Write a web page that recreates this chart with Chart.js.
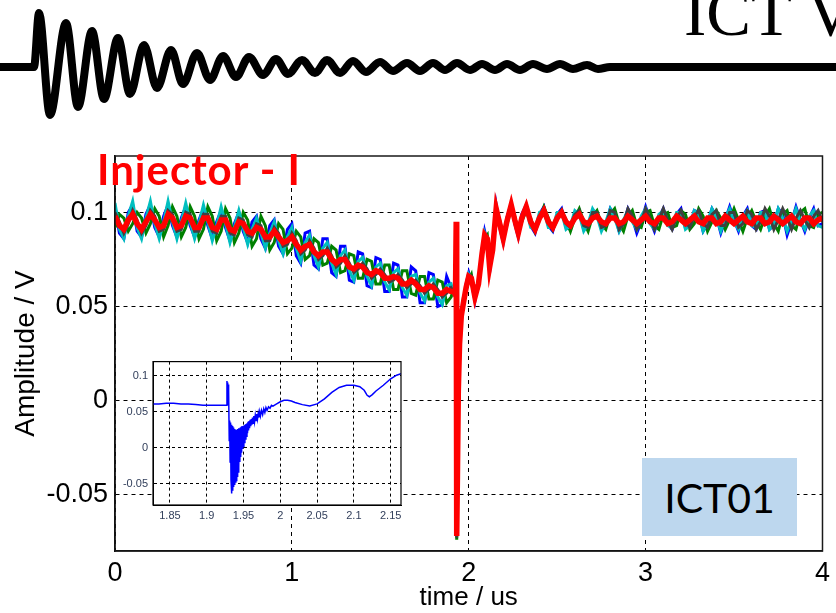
<!DOCTYPE html>
<html>
<head>
<meta charset="utf-8">
<script src="https://cdn.jsdelivr.net/npm/chart.js@4/dist/chart.umd.min.js"></script>
<style>
html, body { margin: 0; padding: 0; background: #fff; }
body { position: relative; width: 836px; height: 613px; overflow: hidden; }
canvas { position: absolute; }
#mainChart { left: 0; top: 0; }
#insetChart { left: 110px; top: 350px; }
#waveChart { left: 0; top: 0; }
.slide-title { position: absolute; left: 684px; top: -21px; font: 67px/67px "Liberation Serif", "Times New Roman", serif; color: #000; white-space: nowrap; }
.injector { position: absolute; left: 97px; top: 148px; font: bold 42px/42px Lato, "Open Sans", sans-serif; letter-spacing: 1px; color: #ff0000; white-space: nowrap; }
.tag { position: absolute; left: 642px; top: 458px; width: 155px; height: 78px; background: #bdd7ee; display: flex; align-items: center; justify-content: center; font: 41px/41px Lato, "Open Sans", sans-serif; color: #000; }
</style>
</head>
<body>
<canvas id="mainChart" width="836" height="613"></canvas>
<canvas id="insetChart" width="300" height="180"></canvas>
<canvas id="waveChart" width="836" height="125"></canvas>
<div class="slide-title">ICT V</div>
<div class="injector">Injector - I</div>
<div class="tag">ICT01</div>
<script>
// main plot: time axis (us)
const timeUs = [
  0, 0.025, 0.05, 0.075, 0.1, 0.125, 0.15, 0.175, 0.2, 0.225,
  0.25, 0.275, 0.3, 0.325, 0.35, 0.375, 0.4, 0.425, 0.45, 0.475,
  0.5, 0.525, 0.55, 0.575, 0.6, 0.625, 0.65, 0.675, 0.7, 0.725,
  0.75, 0.775, 0.8, 0.825, 0.85, 0.875, 0.9, 0.925, 0.95, 0.975,
  1, 1.025, 1.05, 1.075, 1.1, 1.125, 1.15, 1.175, 1.2, 1.225,
  1.25, 1.275, 1.3, 1.325, 1.35, 1.375, 1.4, 1.425, 1.45, 1.475,
  1.5, 1.525, 1.55, 1.575, 1.6, 1.625, 1.65, 1.675, 1.7, 1.725,
  1.75, 1.775, 1.8, 1.825, 1.85, 1.875, 1.9,
  1.915, 1.925, 1.929, 1.932, 1.936, 1.941, 1.948, 1.958, 1.97, 1.985,
  2, 2.015, 2.035, 2.055, 2.075, 2.09, 2.105, 2.118, 2.135, 2.155,
  2.175, 2.195, 2.215, 2.24, 2.26, 2.28, 2.3,
  2.325, 2.35, 2.375, 2.4, 2.425, 2.45, 2.475, 2.5, 2.525, 2.55,
  2.575, 2.6, 2.625, 2.65, 2.675, 2.7, 2.725, 2.75, 2.775, 2.8,
  2.825, 2.85, 2.875, 2.9, 2.925, 2.95, 2.975, 3, 3.025, 3.05,
  3.075, 3.1, 3.125, 3.15, 3.175, 3.2, 3.225, 3.25, 3.275, 3.3,
  3.325, 3.35, 3.375, 3.4, 3.425, 3.45, 3.475, 3.5, 3.525, 3.55,
  3.575, 3.6, 3.625, 3.65, 3.675, 3.7, 3.725, 3.75, 3.775, 3.8,
  3.825, 3.85, 3.875, 3.9, 3.925, 3.95, 3.975, 4
];

const redTrace = [
  0.098, 0.093, 0.091, 0.096, 0.099, 0.094, 0.091, 0.095, 0.099, 0.096,
  0.092, 0.093, 0.099, 0.097, 0.092, 0.093, 0.098, 0.097, 0.092, 0.092,
  0.097, 0.097, 0.092, 0.091, 0.096, 0.096, 0.091, 0.090, 0.095, 0.094,
  0.090, 0.089, 0.092, 0.091, 0.087, 0.087, 0.090, 0.087, 0.084, 0.085,
  0.087, 0.083, 0.080, 0.082, 0.083, 0.079, 0.077, 0.079, 0.079, 0.075,
  0.073, 0.075, 0.075, 0.071, 0.070, 0.072, 0.071, 0.068, 0.067, 0.069,
  0.068, 0.065, 0.065, 0.066, 0.065, 0.062, 0.062, 0.064, 0.062, 0.059,
  0.059, 0.061, 0.060, 0.057, 0.057, 0.059, 0.058,
  0.058, 0.056, 0.095, -0.072, -0.040, 0.005, 0.030, 0.045, 0.052, 0.060,
  0.066, 0.065, 0.055, 0.062, 0.078, 0.088, 0.086, 0.071, 0.080, 0.102,
  0.094, 0.086, 0.095, 0.104, 0.096, 0.089, 0.097,
  0.103, 0.095, 0.091, 0.097, 0.101, 0.095, 0.092, 0.097, 0.100, 0.095,
  0.093, 0.097, 0.099, 0.095, 0.094, 0.097, 0.098, 0.095, 0.094, 0.097,
  0.097, 0.094, 0.095, 0.098, 0.096, 0.094, 0.096, 0.098, 0.095, 0.094,
  0.097, 0.097, 0.094, 0.095, 0.098, 0.096, 0.094, 0.096, 0.098, 0.095,
  0.094, 0.097, 0.097, 0.094, 0.095, 0.098, 0.096, 0.094, 0.096, 0.098,
  0.095, 0.094, 0.097, 0.097, 0.094, 0.095, 0.098, 0.096, 0.094, 0.096,
  0.098, 0.095, 0.094, 0.097, 0.097, 0.094, 0.096, 0.097
];

const blueTrace = [
  0.103, 0.089, 0.086, 0.100, 0.104, 0.090, 0.087, 0.099, 0.104, 0.092,
  0.087, 0.098, 0.104, 0.093, 0.087, 0.097, 0.103, 0.093, 0.087, 0.096,
  0.102, 0.093, 0.086, 0.095, 0.101, 0.092, 0.085, 0.094, 0.100, 0.090,
  0.084, 0.095, 0.098, 0.086, 0.081, 0.093, 0.096, 0.082, 0.078, 0.091,
  0.094, 0.077, 0.073, 0.089, 0.090, 0.072, 0.070, 0.086, 0.086, 0.068,
  0.066, 0.082, 0.082, 0.064, 0.063, 0.079, 0.078, 0.061, 0.060, 0.076,
  0.075, 0.058, 0.058, 0.073, 0.072, 0.055, 0.055, 0.071, 0.069, 0.052,
  0.052, 0.068, 0.067, 0.050, 0.051, 0.066, 0.060,
  0.060, 0.055, 0.093, -0.070, -0.035, 0.010, 0.033, 0.047, 0.050, 0.062,
  0.068, 0.063, 0.053, 0.064, 0.080, 0.090, 0.084, 0.068, 0.083, 0.104,
  0.092, 0.084, 0.097, 0.105, 0.094, 0.087, 0.099,
  0.104, 0.093, 0.089, 0.099, 0.103, 0.093, 0.090, 0.099, 0.102, 0.092,
  0.091, 0.100, 0.101, 0.091, 0.092, 0.101, 0.100, 0.091, 0.093, 0.102,
  0.099, 0.090, 0.094, 0.102, 0.097, 0.089, 0.095, 0.103, 0.096, 0.090,
  0.097, 0.102, 0.094, 0.091, 0.099, 0.102, 0.092, 0.092, 0.101, 0.100,
  0.090, 0.094, 0.102, 0.098, 0.089, 0.096, 0.103, 0.096, 0.090, 0.098,
  0.102, 0.093, 0.091, 0.100, 0.101, 0.091, 0.093, 0.102, 0.099, 0.088,
  0.095, 0.103, 0.096, 0.090, 0.097, 0.102, 0.093, 0.094
];

const greenTrace = [
  0.092, 0.099, 0.097, 0.090, 0.094, 0.100, 0.097, 0.089, 0.094, 0.102,
  0.098, 0.087, 0.093, 0.103, 0.098, 0.087, 0.092, 0.103, 0.098, 0.086,
  0.091, 0.103, 0.098, 0.085, 0.090, 0.102, 0.097, 0.084, 0.089, 0.100,
  0.096, 0.082, 0.086, 0.098, 0.093, 0.080, 0.084, 0.094, 0.091, 0.078,
  0.081, 0.090, 0.087, 0.075, 0.077, 0.086, 0.084, 0.072, 0.073, 0.082,
  0.080, 0.068, 0.069, 0.078, 0.077, 0.065, 0.065, 0.075, 0.074, 0.062,
  0.062, 0.072, 0.072, 0.059, 0.059, 0.069, 0.069, 0.057, 0.056, 0.066,
  0.066, 0.054, 0.054, 0.064, 0.063, 0.052, 0.055,
  0.059, 0.057, 0.090, -0.074, -0.045, 0.000, 0.028, 0.043, 0.055, 0.058,
  0.064, 0.067, 0.056, 0.060, 0.076, 0.086, 0.088, 0.073, 0.078, 0.100,
  0.096, 0.088, 0.093, 0.102, 0.098, 0.090, 0.095,
  0.101, 0.097, 0.090, 0.096, 0.103, 0.097, 0.091, 0.096, 0.101, 0.096,
  0.090, 0.097, 0.102, 0.095, 0.090, 0.098, 0.101, 0.094, 0.091, 0.099,
  0.102, 0.094, 0.090, 0.098, 0.101, 0.093, 0.092, 0.100, 0.101, 0.093,
  0.091, 0.099, 0.100, 0.092, 0.093, 0.101, 0.099, 0.091, 0.094, 0.102,
  0.098, 0.090, 0.095, 0.101, 0.097, 0.091, 0.096, 0.102, 0.096, 0.090,
  0.097, 0.101, 0.095, 0.091, 0.098, 0.102, 0.094, 0.090, 0.099, 0.101,
  0.093, 0.091, 0.100, 0.102, 0.093, 0.092, 0.099, 0.100
];

const cyanTrace = [
  0.105, 0.091, 0.086, 0.098, 0.106, 0.092, 0.086, 0.097, 0.106, 0.094,
  0.086, 0.095, 0.106, 0.095, 0.086, 0.095, 0.105, 0.095, 0.086, 0.094,
  0.104, 0.095, 0.085, 0.093, 0.103, 0.094, 0.084, 0.092, 0.101, 0.092,
  0.083, 0.091, 0.097, 0.089, 0.081, 0.089, 0.095, 0.085, 0.078, 0.087,
  0.092, 0.081, 0.074, 0.084, 0.088, 0.077, 0.071, 0.081, 0.084, 0.073,
  0.067, 0.077, 0.080, 0.069, 0.064, 0.074, 0.076, 0.066, 0.061, 0.071,
  0.073, 0.063, 0.059, 0.068, 0.070, 0.060, 0.056, 0.066, 0.067, 0.057,
  0.053, 0.063, 0.065, 0.055, 0.051, 0.061, 0.062,
  0.057, 0.058, 0.092, -0.071, -0.038, 0.008, 0.031, 0.046, 0.052, 0.061,
  0.067, 0.064, 0.054, 0.063, 0.079, 0.089, 0.085, 0.070, 0.081, 0.103,
  0.093, 0.085, 0.096, 0.104, 0.095, 0.088, 0.098,
  0.102, 0.092, 0.091, 0.100, 0.101, 0.092, 0.092, 0.100, 0.100, 0.091,
  0.093, 0.101, 0.099, 0.090, 0.094, 0.102, 0.098, 0.090, 0.095, 0.102,
  0.097, 0.090, 0.096, 0.101, 0.095, 0.091, 0.098, 0.102, 0.094, 0.091,
  0.099, 0.101, 0.093, 0.092, 0.100, 0.100, 0.091, 0.093, 0.101, 0.099,
  0.090, 0.095, 0.102, 0.097, 0.090, 0.097, 0.102, 0.095, 0.091, 0.098,
  0.101, 0.093, 0.092, 0.100, 0.100, 0.091, 0.094, 0.102, 0.097, 0.090,
  0.096, 0.102, 0.095, 0.091, 0.098, 0.101, 0.093, 0.092
];

const greyTrace = [
  0.100, 0.095, 0.089, 0.094, 0.101, 0.096, 0.089, 0.093, 0.101, 0.098,
  0.090, 0.091, 0.101, 0.099, 0.090, 0.091, 0.100, 0.099, 0.090, 0.090,
  0.099, 0.099, 0.090, 0.089, 0.098, 0.098, 0.089, 0.088, 0.097, 0.096,
  0.088, 0.087, 0.094, 0.093, 0.085, 0.085, 0.092, 0.089, 0.082, 0.083,
  0.089, 0.085, 0.078, 0.080, 0.085, 0.081, 0.075, 0.077, 0.081, 0.077,
  0.071, 0.073, 0.077, 0.073, 0.068, 0.070, 0.073, 0.070, 0.065, 0.067,
  0.070, 0.067, 0.063, 0.064, 0.067, 0.064, 0.060, 0.062, 0.064, 0.061,
  0.057, 0.059, 0.062, 0.059, 0.055, 0.057, 0.060,
  0.058, 0.056, 0.094, -0.073, -0.042, 0.003, 0.029, 0.044, 0.053, 0.059,
  0.065, 0.066, 0.055, 0.061, 0.077, 0.087, 0.087, 0.072, 0.079, 0.101,
  0.095, 0.087, 0.094, 0.103, 0.097, 0.089, 0.096,
  0.103, 0.095, 0.090, 0.098, 0.102, 0.094, 0.091, 0.098, 0.101, 0.094,
  0.092, 0.099, 0.101, 0.093, 0.092, 0.100, 0.100, 0.092, 0.093, 0.101,
  0.100, 0.091, 0.094, 0.102, 0.098, 0.091, 0.095, 0.102, 0.097, 0.091,
  0.096, 0.102, 0.096, 0.091, 0.097, 0.101, 0.095, 0.092, 0.098, 0.101,
  0.094, 0.092, 0.099, 0.101, 0.093, 0.093, 0.100, 0.100, 0.092, 0.094,
  0.101, 0.099, 0.091, 0.095, 0.102, 0.098, 0.091, 0.096, 0.102, 0.097,
  0.091, 0.097, 0.101, 0.096, 0.092, 0.098, 0.101, 0.095
];

const mainXTicks = [0, 1, 2, 3, 4];
const mainYTicks = [-0.05, 0, 0.05, 0.1];

// zoomed inset (single shot, blue)
const insetTime = [
  1.827, 1.835, 1.845, 1.855, 1.865, 1.875, 1.885, 1.895, 1.905, 1.915,
  1.922, 1.927, 1.9275, 1.928, 1.9285, 1.929, 1.9295,
  1.93, 1.9306, 1.9312, 1.9318, 1.9324, 1.933, 1.9336, 1.9342, 1.9348, 1.9354,
  1.936, 1.9366, 1.9372, 1.9378, 1.9384, 1.939, 1.9396, 1.9402, 1.9408, 1.9414,
  1.942, 1.9426, 1.9432, 1.9438, 1.9444, 1.945, 1.9456, 1.9462, 1.9468, 1.9474,
  1.948, 1.9486, 1.9492, 1.9498, 1.9505, 1.9512, 1.9519, 1.9526, 1.9533, 1.954,
  1.9547, 1.9554, 1.9561, 1.9568, 1.9575, 1.9582, 1.959, 1.9598, 1.9606, 1.9614,
  1.9622, 1.963, 1.964, 1.965, 1.966, 1.967, 1.968, 1.969, 1.97, 1.971,
  1.972, 1.973, 1.9745, 1.976, 1.9775, 1.979, 1.9805, 1.982, 1.984, 1.986,
  1.988, 1.99, 1.995, 2, 2.005, 2.01, 2.015, 2.02, 2.03, 2.04,
  2.05, 2.06, 2.07, 2.08, 2.09, 2.1, 2.108, 2.114, 2.118, 2.121,
  2.125, 2.13, 2.14, 2.15, 2.158, 2.164
];
const insetTrace = [
  0.061, 0.061, 0.062, 0.062, 0.061, 0.061, 0.060, 0.059, 0.059, 0.059,
  0.059, 0.059, 0.093, 0.060, 0.091, 0.062, 0.088,
  0.080, 0.010, 0.038, -0.020, 0.035, -0.045, 0.032, -0.064, 0.030, -0.060,
  0.028, -0.055, 0.026, -0.052, 0.025, -0.048, 0.025, -0.046, 0.025, -0.040,
  0.026, -0.034, 0.027, -0.028, 0.027, -0.020, 0.028, -0.013, 0.029, -0.007,
  0.030, -0.002, 0.030, 0.002, 0.031, 0.007, 0.032, 0.012, 0.033, 0.016,
  0.034, 0.020, 0.036, 0.024, 0.037, 0.027, 0.039, 0.030, 0.040, 0.032,
  0.042, 0.034, 0.044, 0.036, 0.045, 0.038, 0.047, 0.040, 0.048, 0.042,
  0.050, 0.044, 0.052, 0.046, 0.054, 0.049, 0.056, 0.052, 0.057, 0.055,
  0.059, 0.058, 0.061, 0.064, 0.066, 0.066, 0.065, 0.063, 0.060, 0.058,
  0.061, 0.068, 0.077, 0.084, 0.087, 0.087, 0.085, 0.080, 0.073, 0.071,
  0.074, 0.079, 0.087, 0.096, 0.101, 0.103
];
const insetXTicks = [1.85, 1.9, 1.95, 2, 2.05, 2.1, 2.15];
const insetYTicks = [-0.05, 0, 0.05, 0.1];

// header wave: position along the slide and amplitude of each crest / trough
const wavePos = [0, 34, 39, 50, 66, 78, 92, 104, 118, 130, 144, 157, 171, 183, 197, 210,
  223, 236, 249, 263, 276, 288, 302, 315, 327, 340, 353, 366, 380, 393, 407, 420,
  433, 445, 457, 470, 482, 495, 507, 520, 533, 547, 560, 573, 587, 598, 610, 836];
const waveAmp = [0, 0, 54, -48, 44, -40, 36, -32, 29, -27, 22, -21, 17, -17, 14, -13,
  11, -10, 10, -8, 8, -7, 7, -6, 7, -6, 6, -5, 5, -4, 4, -4,
  4, -3, 4, -3, 3, -3, 3, -3, 3, -2, 3, -2, 2, -2, 0, 0];

const toPoints = (xs, ys) => xs.map((x, i) => ({ x: x, y: ys[i] }));

const axisFont = '"Liberation Sans", Arial, sans-serif';

const boxPlugin = {
  id: 'box',
  beforeDraw(chart, args, opts) {
    if (!opts.fill) return;
    const a = chart.chartArea;
    chart.ctx.save();
    chart.ctx.fillStyle = opts.fill;
    chart.ctx.fillRect(a.left, a.top, a.right - a.left, a.bottom - a.top);
    chart.ctx.restore();
  },
  afterDraw(chart, args, opts) {
    if (!opts.color) return;
    const a = chart.chartArea;
    const ctx = chart.ctx;
    ctx.save();
    ctx.strokeStyle = opts.color;
    ctx.lineWidth = opts.width;
    ctx.strokeRect(a.left, a.top, a.right - a.left, a.bottom - a.top);
    ctx.restore();
  }
};

function trace(values, color, width) {
  return {
    data: toPoints(timeUs, values),
    borderColor: color,
    borderWidth: width,
    pointRadius: 0,
    tension: 0
  };
}

new Chart(document.getElementById('mainChart'), {
  type: 'line',
  data: {
    datasets: [
      trace(redTrace, '#ff0000', 5.5),
      trace(greyTrace, '#404040', 3),
      trace(cyanTrace, '#00bfbf', 3),
      trace(greenTrace, '#008000', 3),
      trace(blueTrace, '#0000ff', 3)
    ]
  },
  options: {
    responsive: false,
    animation: false,
    devicePixelRatio: 1,
    layout: { padding: { top: 156, right: 10, left: 0, bottom: 0 } },
    plugins: {
      legend: { display: false },
      tooltip: { enabled: false },
      box: { color: '#1a1a1a', width: 1.5 }
    },
    scales: {
      x: {
        type: 'linear',
        min: 0,
        max: 4,
        afterBuildTicks: s => { s.ticks = mainXTicks.map(v => ({ value: v })); },
        afterFit: s => { s.height = 62; },
        grid: { color: '#000', lineWidth: 1, drawTicks: false },
        border: { display: true, color: '#000', width: 1.5, dash: [4, 4] },
        ticks: { color: '#000', padding: 6, maxRotation: 0, autoSkip: false,
          font: { family: axisFont, size: 27 }, callback: v => String(v) },
        title: { display: true, text: 'time / us', color: '#000',
          font: { family: axisFont, size: 26 }, padding: { top: 0, bottom: 0 } }
      },
      y: {
        type: 'linear',
        min: -0.08,
        max: 0.13,
        afterBuildTicks: s => { s.ticks = mainYTicks.map(v => ({ value: v })); },
        afterFit: s => { s.width = 115; },
        grid: { color: '#000', lineWidth: 1, drawTicks: false },
        border: { display: true, color: '#000', width: 1.5, dash: [4, 4] },
        ticks: { color: '#000', padding: 7, autoSkip: false,
          font: { family: axisFont, size: 27 }, callback: v => String(v) },
        title: { display: true, text: 'Amplitude / V', color: '#000',
          font: { family: axisFont, size: 28 }, padding: { top: 9, bottom: 0 } }
      }
    }
  },
  plugins: [boxPlugin]
});

new Chart(document.getElementById('insetChart'), {
  type: 'line',
  data: {
    datasets: [{
      data: toPoints(insetTime, insetTrace),
      borderColor: '#0000ff',
      borderWidth: 1.5,
      pointRadius: 0,
      tension: 0
    }]
  },
  options: {
    responsive: false,
    animation: false,
    devicePixelRatio: 1,
    layout: { padding: { top: 10, right: 9, left: 0, bottom: 0 } },
    plugins: {
      legend: { display: false },
      tooltip: { enabled: false },
      box: { color: '#000', width: 1.2, fill: '#fff' }
    },
    scales: {
      x: {
        type: 'linear',
        min: 1.827,
        max: 2.164,
        afterBuildTicks: s => { s.ticks = insetXTicks.map(v => ({ value: v })); },
        afterFit: s => { s.height = 25; },
        grid: { color: '#000', lineWidth: 1, drawTicks: false },
        border: { display: true, color: '#000', width: 1, dash: [3, 3] },
        ticks: { color: '#33405c', padding: 4, maxRotation: 0, autoSkip: false,
          font: { family: axisFont, size: 11 }, callback: v => String(v) }
      },
      y: {
        type: 'linear',
        min: -0.08,
        max: 0.12,
        afterBuildTicks: s => { s.ticks = insetYTicks.map(v => ({ value: v })); },
        afterFit: s => { s.width = 43; },
        grid: { color: '#000', lineWidth: 1, drawTicks: false },
        border: { display: true, color: '#000', width: 1, dash: [3, 3] },
        ticks: { color: '#33405c', padding: 5, autoSkip: false,
          font: { family: axisFont, size: 11 }, callback: v => String(v) }
      }
    }
  },
  plugins: [boxPlugin]
});

new Chart(document.getElementById('waveChart'), {
  type: 'line',
  data: {
    datasets: [{
      data: toPoints(wavePos, waveAmp),
      borderColor: '#000',
      borderWidth: 8,
      pointRadius: 0,
      cubicInterpolationMode: 'monotone',
      clip: false
    }]
  },
  options: {
    responsive: false,
    animation: false,
    devicePixelRatio: 1,
    layout: { padding: 0 },
    plugins: { legend: { display: false }, tooltip: { enabled: false } },
    scales: {
      x: { type: 'linear', display: false, min: 0, max: 836 },
      y: { type: 'linear', display: false, min: -58, max: 67 }
    }
  }
});
</script>
</body>
</html>
